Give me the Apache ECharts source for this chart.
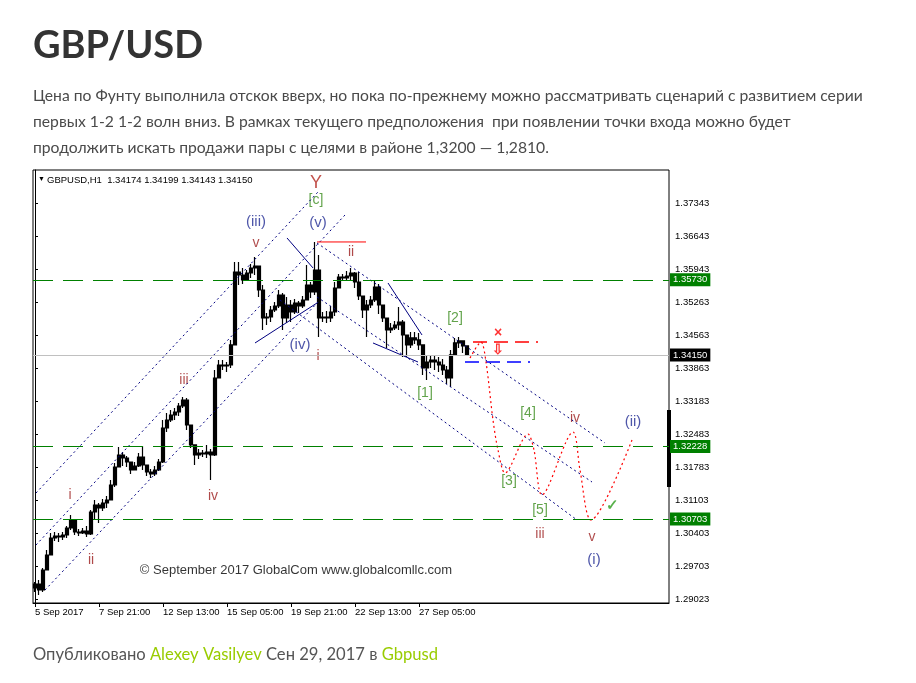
<!DOCTYPE html>
<html><head><meta charset="utf-8">
<script src="https://cdn.jsdelivr.net/npm/echarts@6/dist/echarts.min.js"></script>
<style>html,body{margin:0;padding:0;background:#fff}#c{width:916px;height:683px}</style>
</head><body><div id="c"></div>
<script>
// ---------- DATA ----------
const barCount = 159; // 4-hour slots across the chart window (incl. empty future shift)
const xTickLabels = ['5 Sep 2017','7 Sep 21:00','12 Sep 13:00','15 Sep 05:00','19 Sep 21:00','22 Sep 13:00','27 Sep 05:00'];
const xTickEvery = 16;
const yTickValues = [1.29023,1.29703,1.30403,1.31103,1.31783,1.32483,1.33183,1.33863,1.34563,1.35263,1.35943,1.36643,1.37343];
const yMin = 1.28939, yMax = 1.38036;
// GBPUSD price bars [open, close, low, high]
const priceBars = [
[1.29254,1.29338,1.29170,1.29380],[1.29338,1.29212,1.29107,1.29422],[1.29212,1.29632,1.29170,1.29674],[1.29632,1.29947,1.29632,1.30052],
[1.29947,1.30305,1.29947,1.30410],[1.30305,1.30347,1.30242,1.30431],[1.30347,1.30326,1.30221,1.30410],[1.30326,1.30368,1.30263,1.30431],
[1.30368,1.30515,1.30305,1.30557],[1.30515,1.30683,1.30473,1.30788],[1.30683,1.30431,1.30368,1.30683],[1.30431,1.30410,1.30347,1.30494],
[1.30410,1.30452,1.30389,1.30515],[1.30452,1.30389,1.30326,1.30557],[1.30389,1.30851,1.30368,1.30893],[1.30851,1.30998,1.30683,1.31103],
[1.30998,1.30935,1.30620,1.31040],[1.30935,1.31040,1.30872,1.31124],[1.31040,1.31103,1.30935,1.31187],[1.31103,1.31418,1.31103,1.31523],
[1.31418,1.31796,1.31376,1.31880],[1.31796,1.32048,1.31796,1.32217],[1.32048,1.31985,1.31817,1.32111],[1.31985,1.31901,1.31796,1.32027],
[1.31901,1.31733,1.31649,1.31901],[1.31733,1.31817,1.31733,1.31901],[1.31817,1.32006,1.31796,1.32090],[1.32006,1.31838,1.31733,1.32238],
[1.31838,1.31691,1.31607,1.31838],[1.31691,1.31649,1.31565,1.31754],[1.31649,1.31733,1.31607,1.31817],[1.31733,1.31901,1.31712,1.31964],
[1.31901,1.32616,1.31880,1.32784],[1.32616,1.32784,1.32532,1.32931],[1.32784,1.32889,1.32742,1.32994],[1.32889,1.32952,1.32784,1.33036],
[1.32952,1.33078,1.32868,1.33141],[1.33078,1.33204,1.33036,1.33267],[1.33204,1.32679,1.32574,1.33246],[1.32679,1.32259,1.32196,1.32679],
[1.32259,1.32048,1.31838,1.32259],[1.32048,1.32090,1.31964,1.32175],[1.32090,1.32069,1.32006,1.32154],[1.32069,1.32111,1.31985,1.32259],
[1.32111,1.32048,1.31523,1.32175],[1.32048,1.33666,1.32027,1.33834],[1.33666,1.33939,1.33666,1.34044],[1.33939,1.33918,1.33834,1.34044],
[1.33918,1.33939,1.33792,1.34002],[1.33939,1.34360,1.33876,1.34465],[1.34360,1.35893,1.34360,1.36103],[1.35893,1.35830,1.35620,1.36103],
[1.35830,1.35725,1.35641,1.35977],[1.35725,1.35872,1.35704,1.35935],[1.35872,1.35977,1.35767,1.36061],[1.35977,1.36019,1.35830,1.36208],
[1.36019,1.35515,1.35368,1.36019],[1.35515,1.34927,1.34675,1.35620],[1.34927,1.34948,1.34780,1.35032],[1.34948,1.35095,1.34843,1.35179],
[1.35095,1.35179,1.35053,1.35263],[1.35179,1.35410,1.35137,1.35515],[1.35410,1.34927,1.34675,1.35452],[1.34927,1.35200,1.34822,1.35368],
[1.35200,1.35053,1.34843,1.35305],[1.35053,1.35242,1.35011,1.35326],[1.35242,1.35179,1.35032,1.35284],[1.35179,1.35305,1.35137,1.35389],
[1.35305,1.35620,1.35305,1.36040],[1.35620,1.35473,1.35347,1.35683],[1.35473,1.35935,1.35410,1.36524],[1.35935,1.34927,1.34528,1.36250],
[1.34927,1.34948,1.34843,1.35053],[1.34948,1.34927,1.34822,1.35074],[1.34927,1.35053,1.34843,1.35179],[1.35053,1.35557,1.34969,1.35683],
[1.35557,1.35788,1.35557,1.35851],[1.35788,1.35767,1.35704,1.35851],[1.35767,1.35809,1.35704,1.35914],[1.35809,1.35872,1.35704,1.35977],
[1.35872,1.35683,1.35557,1.35893],[1.35683,1.35389,1.35305,1.35893],[1.35389,1.35095,1.34927,1.35389],[1.35095,1.35200,1.34528,1.35305],
[1.35200,1.35305,1.35137,1.35389],[1.35305,1.35578,1.35263,1.35704],[1.35578,1.35200,1.35011,1.35641],[1.35200,1.34927,1.34843,1.35200],
[1.34927,1.34675,1.34297,1.34927],[1.34675,1.34717,1.34612,1.34822],[1.34717,1.34780,1.34675,1.34864],[1.34780,1.34843,1.34675,1.35158],
[1.34843,1.34570,1.34107,1.34885],[1.34570,1.34360,1.34107,1.34570],[1.34360,1.34507,1.34297,1.34633],[1.34507,1.34465,1.34381,1.34633],
[1.34465,1.34360,1.34255,1.34612],[1.34360,1.33876,1.33729,1.34360],[1.33876,1.34002,1.33624,1.34150],[1.34002,1.34044,1.33876,1.34128],
[1.34044,1.34002,1.33834,1.34128],[1.34002,1.33939,1.33792,1.34107],[1.33939,1.33834,1.33729,1.34065],[1.33834,1.33666,1.33540,1.33918],
[1.33666,1.34150,1.33477,1.34255],[1.34150,1.34402,1.34128,1.34507],[1.34402,1.34444,1.34297,1.34528],[1.34444,1.34339,1.34192,1.34444],
[1.34339,1.34150,1.34128,1.34339]
];
const headerText = 'GBPUSD,H1  1.34174 1.34199 1.34143 1.34150';
// horizontal levels
const greenLevels = [1.35730, 1.32228, 1.30703];
const bidLevel = 1.34150;
// annotation segments: [[barIndex, price],[barIndex, price]]
const dottedChannels = [
  [[0.25,1.31250],[70.75,1.37574]],
  [[0.25,1.30158],[77.5,1.37091]],
  [[2.5,1.29212],[71.25,1.35305]],
  [[70.5,1.36503],[142.5,1.32301]],
  [[70.5,1.35368],[139.25,1.31481]],
  [[61.25,1.35305],[135.5,1.30683]]
];
const solidTrendlines = [
  [[55,1.34402],[70.5,1.35242]],
  [[63,1.36608],[69.5,1.35978]],
  [[88.25,1.35662],[96.75,1.34570]],
  [[84.5,1.34402],[95.75,1.34002]]
];
const redHighLine = [[70.5,1.36524],[82.75,1.36524]];
const stopLine = [[109.5,1.34423],[125.75,1.34423]];
const entryLine = [[107.5,1.34002],[123.75,1.34002]];
const forecastPath = [[108.75,1.34086],[111.5,1.34423],[112.75,1.34002],[114.5,1.32784],[115.75,1.32154],[117.5,1.31670],
  [123.25,1.32490],[124.75,1.32154],[126.75,1.31208],[134.5,1.32532],[136.25,1.31733],[139,1.30683],[149.25,1.32364]];
const axisMarker = [[158.5,1.32994],[158.5,1.31376]];
// wave labels [text, barIndex, price]
const redLabels = [['v',55.25,1.36503],['ii',79,1.36314],['i',70.75,1.34128],['iii',37.25,1.33624],['iv',44.5,1.31187],
  ['i',8.75,1.31208],['ii',14,1.29842],['iv',135,1.32826],['iii',126.25,1.30389],['v',139.25,1.30326]];
const blueLabels = [['(iii)',55.25,1.36944],['(v)',70.75,1.36923],['(iv)',66.25,1.34360],['(ii)',149.5,1.32742],['(i)',139.75,1.29842]];
const greenLabels = [['[c]',70.25,1.37406],['[2]',105,1.34927],['[1]',97.5,1.33351],['[4]',123.25,1.32931],['[3]',118.5,1.31502],['[5]',126.25,1.30893]];
const bigLabel = ['Y',70.25,1.37763];
const signals = [['×',115.75,1.34612],['⇩',115.75,1.34255]];
const checkMark = ['✓',144.25,1.30977];
const copyright = ['© September 2017 GlobalCom www.globalcomllc.com',65.25,1.29624];
// page text
const pageTitle = 'GBP/USD';
const paragraphLines = [
  'Цена по Фунту выполнила отскок вверх, но пока по-прежнему можно рассматривать сценарий с развитием серии',
  'первых 1-2 1-2 волн вниз. В рамках текущего предположения  при появлении точки входа можно будет',
  'продолжить искать продажи пары с целями в районе 1,3200 — 1,2810.'
];
const footerParts = [['Опубликовано ','g'],['Alexey Vasilyev','l'],[' Сен 29, 2017 в ','g'],['Gbpusd','l']];

// ---------- CHART ----------
const chart = echarts.init(document.getElementById('c'), null, {renderer:'canvas'});
const categories = Array.from({length: barCount}, (_, i) => String(i));
const NAVY = '#000080', DRED = '#9b1c1c', BLUE = '#222c94', GREEN = '#3b8c1e';
const txtFont = 'Liberation Sans, Arial, sans-serif';

function seg(data, style, extra) {
  return Object.assign({type:'line', xAxisIndex:1, yAxisIndex:0, data, symbol:'none', silent:true,
    lineStyle: style, animation:false}, extra || {});
}
function labelSeries(items, color, size, extra) {
  return {type:'scatter', xAxisIndex:1, yAxisIndex:0, symbolSize:0, silent:true, animation:false,
    data: items.map(d => ({name:d[0], value:[d[1], d[2]]})),
    label: Object.assign({show:true, position:'inside', formatter:'{b}', color, fontSize:size, fontFamily:txtFont}, extra || {})};
}
function levelSeries(values, lineColor, lineType, boxColor) {
  return {type:'line', xAxisIndex:0, yAxisIndex:0, data:[], silent:true, animation:false,
    markLine:{symbol:'none', silent:true, animation:false, precision:5,
      lineStyle:{color:lineColor, type:lineType, width:1},
      label:{show:true, position:'end', distance:1, formatter: p => Number(p.value).toFixed(5), color:'#fff',
        backgroundColor:boxColor, padding:[2,3,1,3], fontSize:9.5, fontFamily:txtFont},
      data: values.map(v => ({yAxis:v}))}};
}

const series = [
  levelSeries([bidLevel], '#c0c0c0', 'solid', '#000'),
  levelSeries(greenLevels, '#008000', [20,10], '#008000'),
  {type:'candlestick', xAxisIndex:0, yAxisIndex:0, data: priceBars, barWidth:3, animation:false, silent:true,
   itemStyle:{color:'#000', color0:'#000', borderColor:'#000', borderColor0:'#000', borderWidth:1.2}},
  ...dottedChannels.map(s => seg(s, {color:NAVY, width:1, type:[2,3]})),
  ...solidTrendlines.map(s => seg(s, {color:NAVY, width:1, type:'solid'})),
  seg(redHighLine, {color:'#ff0000', width:1, type:'solid'}),
  seg(stopLine, {color:'#ff0000', width:1.5, type:[14,7]}),
  seg(entryLine, {color:'#0000ff', width:1.5, type:[14,7]}),
  seg(forecastPath, {color:'#ff0000', width:1.2, type:[2,3]}, {smooth:0.3}),
  seg(axisMarker, {color:'#000', width:4, type:'solid'}, {clip:false}),
  labelSeries(redLabels, DRED, 14),
  labelSeries(blueLabels, BLUE, 15),
  labelSeries(greenLabels, GREEN, 14),
  labelSeries([bigLabel], '#b3261e', 18),
  labelSeries(signals, '#ff0000', 14, {fontWeight:'bold'}),
  labelSeries([checkMark], '#2f9e1f', 15, {fontWeight:'bold'}),
  labelSeries([copyright], '#000', 13)
];

const option = {
  animation:false,
  backgroundColor:'#fff',
  grid:{left:33, top:170, width:636, height:433, show:true, borderColor:'#000', borderWidth:1, backgroundColor:'#fff'},
  xAxis:[
    {type:'category', data:categories, boundaryGap:true, position:'bottom',
     axisLine:{show:true, lineStyle:{color:'#000', width:1}},
     axisTick:{show:true, alignWithLabel:true, length:4, lineStyle:{color:'#000'},
       interval:(i) => i % xTickEvery === 0 && i / xTickEvery < xTickLabels.length},
     axisLabel:{show:true, color:'#000', fontSize:9.5, fontFamily:txtFont, align:'left', margin:4,
       interval:(i) => i % xTickEvery === 0 && i / xTickEvery < xTickLabels.length,
       formatter:(v, i) => xTickLabels[i / xTickEvery] || ''},
     splitLine:{show:false}},
    {type:'value', min:-0.5, max:barCount - 0.5, show:false}
  ],
  yAxis:[{type:'value', position:'right', min:yMin, max:yMax, scale:true,
    axisLine:{show:true, lineStyle:{color:'#000', width:1}},
    axisTick:{show:true, length:3, inside:false, customValues:yTickValues, lineStyle:{color:'#000'}},
    axisLabel:{show:true, customValues:yTickValues, formatter:v => v.toFixed(5), color:'#000', fontSize:9.5,
      fontFamily:txtFont, margin:6, align:'left'},
    splitLine:{show:false}}],
  graphic:[
    {type:'text', left:33, top:27, style:{text:pageTitle, font:'bold 38px Lato, sans-serif', fill:'#333'}},
    ...paragraphLines.map((t, k) => ({type:'text', left:33, top:88 + k * 26,
      style:{text:t, font:'15.7px Lato, sans-serif', fill:'#4a4a4a'}})),
    {type:'text', left:33, top:646, style:{text: footerParts.map(p => '{' + p[1] + '|' + p[0] + '}').join(''),
      rich:{g:{fill:'#555', font:'16.6px Lato, sans-serif'}, l:{fill:'#99cc00', font:'16.6px Lato, sans-serif'}}}},
    {type:'text', left:38, top:176, style:{text:'▼', font:'7px ' + txtFont, fill:'#000'}},
    {type:'text', left:47, top:175, style:{text:headerText, font:'9.5px ' + txtFont, fill:'#000'}}
  ],
  series
};
chart.setOption(option);
</script></body></html>
